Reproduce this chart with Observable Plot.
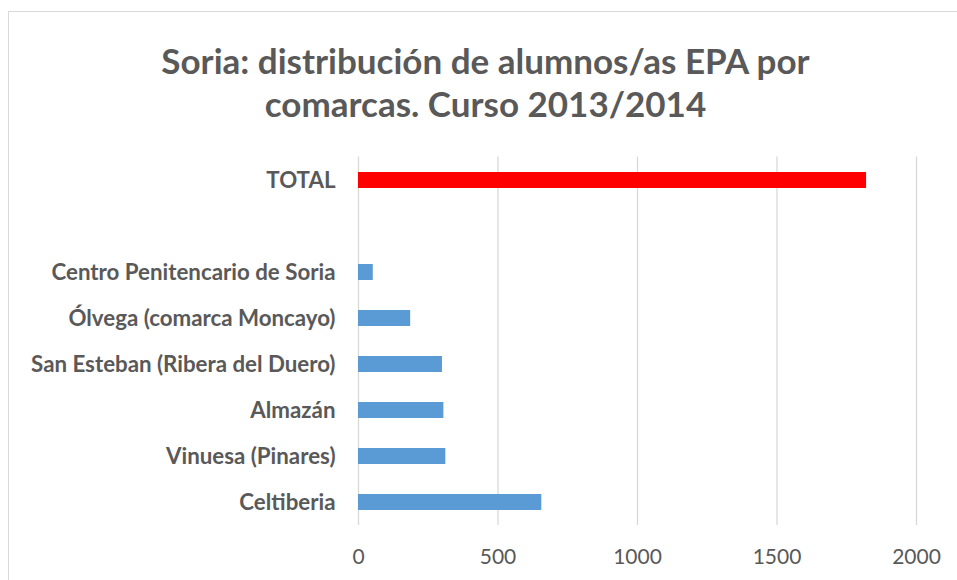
<!DOCTYPE html>
<html>
<head>
<meta charset="utf-8">
<script src="https://cdn.jsdelivr.net/npm/d3@7"></script>
<script src="https://cdn.jsdelivr.net/npm/@observablehq/plot@0.6"></script>
<style>
  html, body { margin: 0; padding: 0; background: #fff; }
  #wrap { position: relative; width: 957px; height: 580px; overflow: hidden; font-family: Lato, "Open Sans", sans-serif; }
  #frame { position: absolute; left: 8px; top: 11px; width: 1000px; height: 1000px; border: 1px solid #d9d9d9; box-sizing: border-box; }
  #title { position: relative; height: 145px; box-sizing: border-box; padding-top: 39px; padding-left: 14px; text-align: center; color: #595959; font-weight: bold; font-size: 35px; line-height: 43px; white-space: nowrap; }
  #chart { position: relative; }
</style>
</head>
<body>
<div id="wrap">
  <div id="frame"></div>
  <div id="title">Soria: distribución de alumnos/as EPA por<br>comarcas. Curso 2013/2014</div>
  <div id="chart"></div>
</div>
<script>
const categories = [
  "TOTAL",
  "",
  "Centro Penitencario de Soria",
  "Ólvega (comarca Moncayo)",
  "San Esteban (Ribera del Duero)",
  "Almazán",
  "Vinuesa (Pinares)",
  "Celtiberia"
];
const barNames = [
  "TOTAL",
  "Centro Penitencario de Soria",
  "Ólvega (comarca Moncayo)",
  "San Esteban (Ribera del Duero)",
  "Almazán",
  "Vinuesa (Pinares)",
  "Celtiberia"
];
const barValues = [1821, 53, 187, 301, 306, 313, 657];
const xTicks = [0, 500, 1000, 1500, 2000];

const data = barNames.map((name, i) => ({name, value: barValues[i]}));

const chart = Plot.plot({
  width: 957,
  height: 435,
  marginLeft: 358,
  marginRight: 41,
  marginTop: 11.4,
  marginBottom: 54.9,
  style: {fontFamily: "Lato, 'Open Sans', sans-serif", color: "#595959", background: "transparent"},
  x: {domain: [0, 2000]},
  y: {domain: categories, padding: 0},
  marks: [
    Plot.gridX(xTicks, {stroke: "#d9d9d9", strokeOpacity: 1, strokeWidth: 1.3}),
    Plot.barX(data, {
      x: "value",
      y: "name",
      fill: d => d.name === "TOTAL" ? "#ff0000" : "#5b9bd5",
      insetTop: 15,
      insetBottom: 15
    }),
    Plot.axisY({tickSize: 0, tickPadding: 23, fontSize: 22.3, fontWeight: "bold", fill: "#595959", label: null}),
    Plot.axisX({ticks: xTicks, tickSize: 0, tickPadding: 23, fontSize: 21, fill: "#595959", label: null, tickFormat: d => String(d)})
  ]
});
document.getElementById("chart").appendChild(chart);
</script>
</body>
</html>
